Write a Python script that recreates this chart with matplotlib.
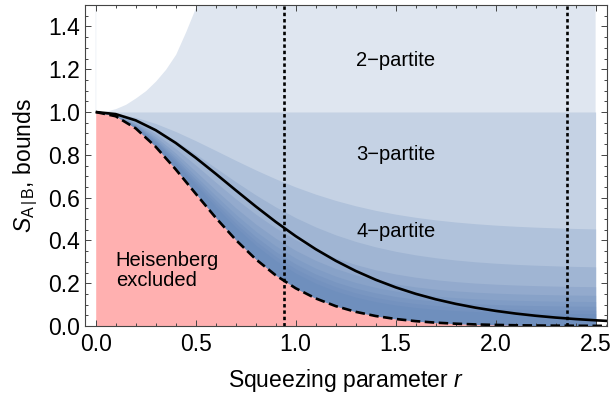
import matplotlib
matplotlib.use("Agg")
import matplotlib.pyplot as plt
from matplotlib.ticker import MultipleLocator, FormatStrFormatter

plt.rcParams['font.family'] = ['Liberation Sans', 'DejaVu Sans']
plt.rcParams['mathtext.fontset'] = 'custom'
plt.rcParams['mathtext.rm'] = 'Liberation Sans'
plt.rcParams['mathtext.it'] = 'Liberation Sans:italic'
plt.rcParams['mathtext.sf'] = 'Liberation Sans'

# squeezing parameter grid for the bound curves
r = [0.0, 0.1, 0.2, 0.3, 0.4, 0.5, 0.6, 0.7, 0.8, 0.9, 1.0, 1.1, 1.2,
     1.3, 1.4, 1.5, 1.6, 1.7, 1.8, 1.9, 2.0, 2.1, 2.2, 2.3, 2.4, 2.5]
# the two black curves run on to the right edge of the frame
r_line = r + [2.6]

# Heisenberg limit (dashed)
heisenberg = [1.0, 0.9802, 0.9236, 0.8375, 0.7321, 0.6185, 0.5063, 0.4029,
              0.3125, 0.2371, 0.1764, 0.1290, 0.0930, 0.0663, 0.0467, 0.0327,
              0.0227, 0.0156, 0.0107, 0.0073, 0.0050, 0.0034, 0.0023, 0.0016,
              0.0010, 0.0007, 0.0005]
# reference bound (solid)
reference = [1.0, 0.9901, 0.9610, 0.9151, 0.8556, 0.7864, 0.7116, 0.6347,
             0.5591, 0.4869, 0.4200, 0.3592, 0.3050, 0.2574, 0.2162, 0.1807,
             0.1505, 0.1250, 0.1036, 0.0856, 0.0707, 0.0582, 0.0479, 0.0394,
             0.0324, 0.0266, 0.0218]

# upper edge of the 2-partite region
r_top = [0.0, 0.05, 0.1, 0.15, 0.2, 0.25, 0.3, 0.35, 0.4, 0.45, 0.5, 0.55, 0.6]
edge_2 = [1.0, 1.004, 1.016, 1.036, 1.066, 1.10, 1.145, 1.20, 1.27, 1.375,
          1.49, 1.62, 1.76]
# lower edge of the 2-partite region
edge_2_low = 1.0

# lower edges of the k-partite regions, k = 3 ... 10
edge_3 = [1.0, 0.9937, 0.9752, 0.9462, 0.9089, 0.8660, 0.8203, 0.7741, 0.7294,
          0.6876, 0.6496, 0.6160, 0.5867, 0.5616, 0.5403, 0.5226, 0.5079,
          0.4958, 0.4859, 0.4779, 0.4713, 0.4661, 0.4619, 0.4585, 0.4557, 0.4536]
edge_4 = [1.0, 0.9906, 0.9632, 0.9205, 0.8661, 0.8042, 0.7390, 0.6743, 0.6128,
          0.5564, 0.5063, 0.4629, 0.4259, 0.3951, 0.3697, 0.3490, 0.3323,
          0.3189, 0.3083, 0.2999, 0.2933, 0.2881, 0.2841, 0.2809, 0.2784, 0.2765]
edge_5 = [1.0, 0.9878, 0.9525, 0.8979, 0.8290, 0.7519, 0.6722, 0.5947, 0.5228,
          0.4586, 0.4032, 0.3565, 0.3181, 0.2871, 0.2624, 0.2430, 0.2279,
          0.2162, 0.2073, 0.2005, 0.1954, 0.1915, 0.1886, 0.1864, 0.1848, 0.1836]
edge_6 = [1.0, 0.9861, 0.9461, 0.8846, 0.8077, 0.7226, 0.6357, 0.5525, 0.4765,
          0.4099, 0.3533, 0.3065, 0.2686, 0.2385, 0.2150, 0.1967, 0.1828,
          0.1721, 0.1641, 0.1580, 0.1535, 0.1501, 0.1476, 0.1457, 0.1444, 0.1434]
edge_7 = [1.0, 0.9849, 0.9415, 0.8750, 0.7922, 0.7012, 0.6092, 0.5218, 0.4429,
          0.3744, 0.3170, 0.2701, 0.2326, 0.2032, 0.1804, 0.1631, 0.1499,
          0.1400, 0.1326, 0.1271, 0.1231, 0.1200, 0.1178, 0.1162, 0.1150, 0.1141]
edge_8 = [1.0, 0.9840, 0.9381, 0.8677, 0.7806, 0.6852, 0.5893, 0.4988, 0.4177,
          0.3479, 0.2898, 0.2428, 0.2056, 0.1767, 0.1546, 0.1379, 0.1253,
          0.1159, 0.1090, 0.1039, 0.1002, 0.0975, 0.0955, 0.0940, 0.0929, 0.0922]
edge_9 = [1.0, 0.9832, 0.9352, 0.8617, 0.7709, 0.6719, 0.5727, 0.4796, 0.3966,
          0.3257, 0.2671, 0.2200, 0.1830, 0.1546, 0.1330, 0.1168, 0.1048,
          0.0958, 0.0893, 0.0846, 0.0812, 0.0786, 0.0768, 0.0755, 0.0745, 0.0739]
edge_10 = [1.0, 0.9825, 0.9326, 0.8562, 0.7621, 0.6599, 0.5577, 0.4624, 0.3777,
           0.3058, 0.2467, 0.1995, 0.1628, 0.1348, 0.1136, 0.0979, 0.0863,
           0.0778, 0.0717, 0.0672, 0.0640, 0.0617, 0.0601, 0.0589, 0.0580, 0.0574]

# vertical markers
r_markers = [0.94, 2.355]

region_labels = ["2\u2212partite", "3\u2212partite", "4\u2212partite"]
region_label_xy = [(1.50, 1.24), (1.50, 0.80), (1.50, 0.44)]
heisenberg_label = "Heisenberg\nexcluded"

BASE = (0.368417, 0.506779, 0.709798)
PINK = (1.0, 0.69, 0.69)
LAYER_ALPHA = 0.2
Y_MAX = 1.5


def layer_color(k):
    """Colour of k stacked translucent layers of BASE over white."""
    w = (1 - LAYER_ALPHA) ** k
    return tuple(w * 1.0 + (1 - w) * c for c in BASE)


fig = plt.figure(figsize=(6.13, 3.99), dpi=100)
ax = fig.add_axes([85 / 613, 1 - 326 / 399, 522 / 613, 321 / 399])

n = len(r)
low = heisenberg[:n]

# 2-partite layer: everything above the Heisenberg limit, then cut back
# to the region under its upper edge
ax.fill_between(r, low, 1.9, color=layer_color(1), lw=0)
ax.fill_between(r_top, edge_2, 1.9, color="white", lw=0)

# further layers, each reaching from the Heisenberg limit up to its edge
upper_edges = [[edge_2_low] * n, edge_3, edge_4, edge_5, edge_6, edge_7,
               edge_8, edge_9, edge_10]
for k, top in enumerate(upper_edges, start=2):
    ax.fill_between(r, low, top, color=layer_color(k), lw=0)

# excluded region
ax.fill_between(r, 0, low, color=PINK, lw=0)

ax.plot(r_line, reference, color="black", lw=1.9, solid_capstyle="butt")
ax.plot(r_line, heisenberg, color="black", lw=1.9,
        linestyle=(0, (3.6, 1.7)))
for xm in r_markers:
    ax.axvline(xm, color="black", lw=1.9, linestyle=(0, (1.3, 1.1)))

for text, (tx, ty) in zip(region_labels, region_label_xy):
    ax.text(tx, ty, text, fontsize=14.5, ha="center", va="center")
ax.text(0.10, 0.26, heisenberg_label, fontsize=14.5, ha="left", va="center",
        linespacing=1.1)

ax.set_xlim(-0.0535, 2.557)
ax.set_ylim(0, Y_MAX)
ax.xaxis.set_major_locator(MultipleLocator(0.5))
ax.xaxis.set_minor_locator(MultipleLocator(0.1))
ax.yaxis.set_major_locator(MultipleLocator(0.2))
ax.yaxis.set_minor_locator(MultipleLocator(0.05))
ax.xaxis.set_major_formatter(FormatStrFormatter("%.1f"))
ax.yaxis.set_major_formatter(FormatStrFormatter("%.1f"))

for s in ax.spines.values():
    s.set_color("#444444")
    s.set_linewidth(0.8)
ax.tick_params(which="both", direction="in", top=True, right=True,
               color="#444444", width=0.7, labelsize=16.5)
ax.tick_params(which="major", length=4.0)
ax.tick_params(which="minor", length=2.3)
ax.tick_params(axis="x", which="major", pad=5)
ax.tick_params(axis="y", which="major", pad=3.5)

ax.set_xlabel("Squeezing parameter $r$", fontsize=16.5, labelpad=8)
ax.set_ylabel(r"$S_{\mathrm{A\,|\,B}}$, bounds", fontsize=16.5, labelpad=6)

fig.savefig("out.png", dpi=100)
